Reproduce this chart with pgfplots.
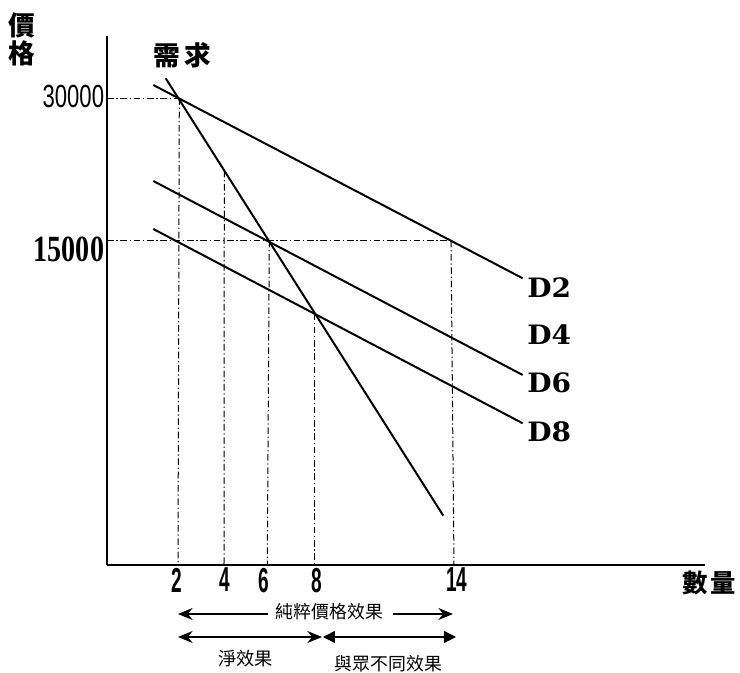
\documentclass[border=0pt]{standalone}
\usepackage{pgfplots}
\pgfplotsset{compat=1.18}
\usetikzlibrary{arrows.meta}
\usepackage{graphicx}
\usepackage{fontspec}
\setmainfont{Liberation Serif}
\newfontfamily\cjk{Noto Sans CJK TC}
\newfontfamily\sansf{Liberation Sans}
\newfontfamily\dfont{DejaVu Serif}
\newcommand\xl[1]{\scalebox{0.55}[1]{#1}}
\begin{document}
\begin{tikzpicture}
\begin{axis}[
  x=0.75pt, y=0.75pt,
  xmin=0, xmax=598, ymin=0, ymax=529,
  axis x line=bottom, axis y line=left,
  axis line style={-, line width=1.5pt},
  clip=false,
  major tick length=0pt,
  xtick={70,118,157,210,350},
  xticklabels={\xl{2},\xl{4},\xl{6},\xl{8},\xl{14}},
  xticklabel style={font=\sansf\bfseries\fontsize{26}{26}\selectfont, anchor=north, inner sep=1pt, yshift=-1pt},
  ytick={315.5,468.5},
  yticklabels={{\fontsize{27.7}{28}\selectfont\bfseries\scalebox{0.76}[1]{15000}},{\sansf\fontsize{24}{24}\selectfont\scalebox{0.69}[1]{30000}\hspace{7pt}}},
  yticklabel style={anchor=east, inner sep=2pt},
]
% demand curves
\addplot[black, line width=1.5pt] coordinates {(46.3,480) (415.7,286.7)};
\addplot[black, line width=1.5pt] coordinates {(46.3,384) (415.7,190)};
\addplot[black, line width=1.5pt] coordinates {(46.3,336) (415.7,141.7)};
\addplot[black, line width=1.5pt] coordinates {(58.7,486.7) (336.3,49.3)};
% guide lines
\pgfplotsset{guide/.style={black, line width=0.75pt, dash pattern=on 5pt off 2pt on 1pt off 2pt}}
\addplot[guide] coordinates {(0,466.7) (72.3,466.7)};
\addplot[guide] coordinates {(72.3,466.7) (71,0)};
\addplot[guide] coordinates {(117.3,394.4) (117,0)};
\addplot[guide] coordinates {(0,324.3) (344,324.3)};
\addplot[guide] coordinates {(162.3,324.3) (160.3,0)};
\addplot[guide] coordinates {(208,251.7) (208,0)};
\addplot[guide] coordinates {(344,324.3) (347,0)};
% effect arrows
\addplot[black, line width=1pt, -{Stealth[length=11pt,width=9pt]}] coordinates {(161,-49) (71,-49)};
\addplot[black, line width=1pt, -{Stealth[length=11pt,width=9pt]}] coordinates {(286,-49) (346,-49)};
\addplot[black, line width=1pt, {Stealth[length=11pt,width=9pt]}-{Stealth[length=11pt,width=9pt]}] coordinates {(71,-72) (215,-72)};
\addplot[black, line width=1pt, {Triangle[length=9pt,width=9pt]}-{Triangle[length=9pt,width=9pt]}] coordinates {(216,-72) (349,-72)};
% labels
\node[align=center, inner sep=0pt, font=\cjk\bfseries\fontsize{20}{21}\selectfont] at (axis cs:-85.5,526) {價\\格};
\node[inner sep=0pt] at (axis cs:75.5,509.5) {\cjk\bfseries\fontsize{20}{20}\selectfont 需\hspace{3pt}求};
\node[inner sep=0pt] at (axis cs:602,-17.5) {\cjk\bfseries\fontsize{19}{19}\selectfont 數\hspace{2pt}量};
\node[anchor=west, inner sep=0pt] at (axis cs:420,277) {\dfont\bfseries\fontsize{20}{21}\selectfont\scalebox{1.05}[1]{D2}};
\node[anchor=west, inner sep=0pt] at (axis cs:420,230) {\dfont\bfseries\fontsize{20}{21}\selectfont\scalebox{1.05}[1]{D4}};
\node[anchor=west, inner sep=0pt] at (axis cs:420,182) {\dfont\bfseries\fontsize{20}{21}\selectfont\scalebox{1.05}[1]{D6}};
\node[anchor=west, inner sep=0pt] at (axis cs:420,133) {\dfont\bfseries\fontsize{20}{21}\selectfont\scalebox{1.05}[1]{D8}};
\node[inner sep=0pt] at (axis cs:222.5,-47) {\cjk\fontsize{13.4}{14}\selectfont 純粹價格效果};
\node[inner sep=0pt] at (axis cs:138.5,-94) {\cjk\fontsize{13.7}{14}\selectfont 淨效果};
\node[inner sep=0pt] at (axis cs:281.5,-98.5) {\cjk\fontsize{13.4}{14}\selectfont 與眾不同效果};
\coordinate (bl) at (axis cs:-107,-108);
\coordinate (tr) at (axis cs:633,565);
\end{axis}
\pgfresetboundingbox
\useasboundingbox (bl) rectangle (tr);
\end{tikzpicture}
\end{document}
